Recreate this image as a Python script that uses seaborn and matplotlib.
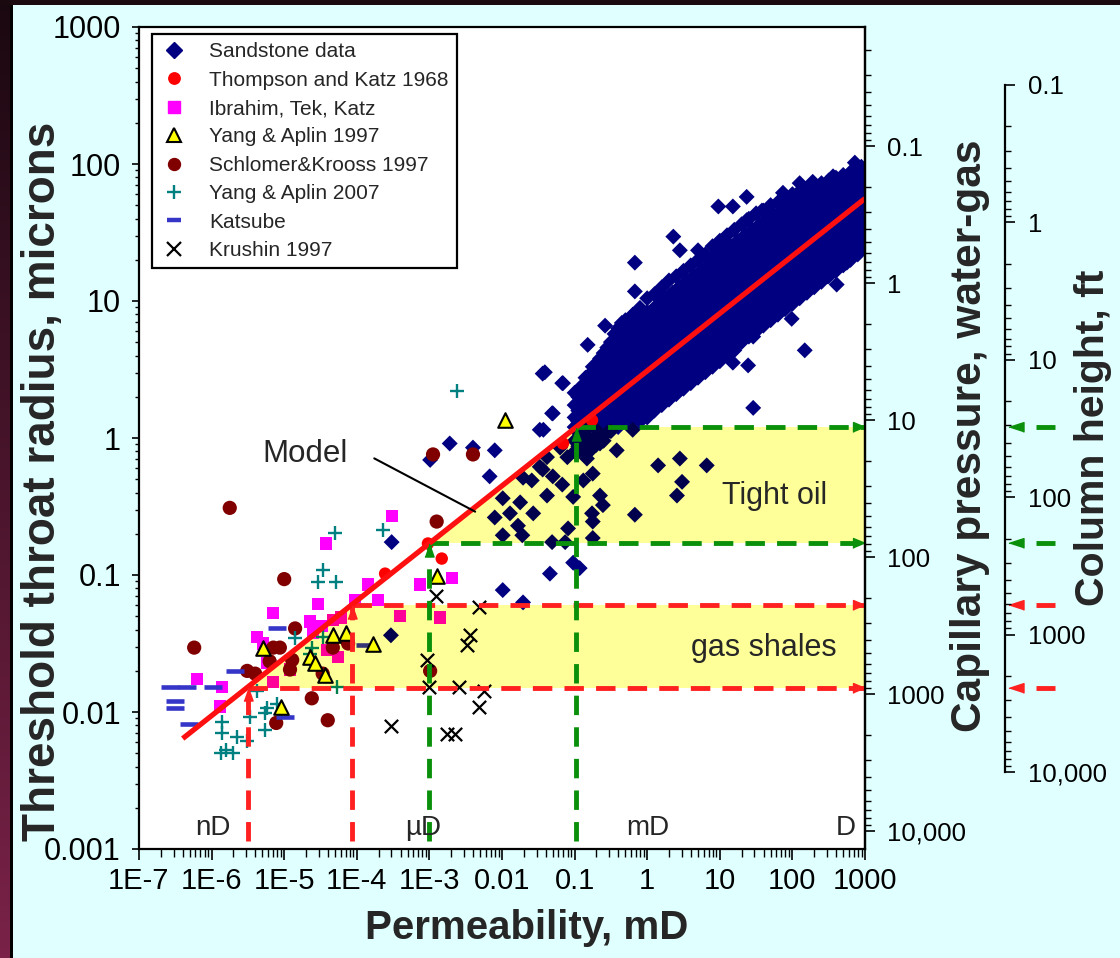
import numpy as np
import matplotlib
matplotlib.use("Agg")
import matplotlib.pyplot as plt
import matplotlib.transforms as mtransforms
from matplotlib.colors import LinearSegmentedColormap, to_rgb
from matplotlib.lines import Line2D
from matplotlib.patches import Rectangle
from matplotlib.ticker import LogLocator, NullFormatter
import seaborn as sns

sns.set_theme(style="ticks")
plt.rcParams["font.family"] = ["Liberation Sans", "DejaVu Sans"]

# ---------------- data: (log10 permeability mD, log10 threshold radius microns) ----------------
# sandstone cloud, read column by column along the band
sand_band = [
    (-1.00, [-0.10, -0.02, 0.08, 0.15, 0.24, 0.33]),
    (-0.95, [-0.06, 0.04, 0.12, 0.20, 0.30]),
    (-0.90, [-0.08, 0.02, 0.10, 0.19, 0.27, 0.38]),
    (-0.85, [-0.03, 0.06, 0.15, 0.24, 0.33, 0.44]),
    (-0.80, [-0.10, 0.00, 0.09, 0.18, 0.28, 0.36, 0.46]),
    (-0.75, [-0.02, 0.12, 0.21, 0.30, 0.40, 0.52]),
    (-0.70, [-0.05, 0.06, 0.15, 0.24, 0.33, 0.44, 0.54]),
    (-0.65, [0.02, 0.11, 0.20, 0.30, 0.38, 0.48, 0.58]),
    (-0.60, [-0.02, 0.08, 0.17, 0.26, 0.35, 0.44, 0.52, 0.62]),
    (-0.55, [0.04, 0.13, 0.22, 0.32, 0.41, 0.50, 0.58, 0.66]),
    (-0.50, [0.05, 0.14, 0.23, 0.31, 0.40, 0.49, 0.58, 0.70]),
    (-0.45, [0.10, 0.19, 0.28, 0.37, 0.46, 0.55, 0.64, 0.76]),
    (-0.40, [0.08, 0.17, 0.26, 0.34, 0.43, 0.52, 0.61, 0.70, 0.80]),
    (-0.35, [0.12, 0.22, 0.31, 0.40, 0.49, 0.58, 0.68, 0.76, 0.84]),
    (-0.30, [0.12, 0.21, 0.30, 0.39, 0.47, 0.56, 0.65, 0.74, 0.86]),
    (-0.25, [0.10, 0.20, 0.29, 0.38, 0.48, 0.57, 0.66, 0.78]),
    (-0.20, [0.06, 0.18, 0.27, 0.36, 0.45, 0.54, 0.63, 0.72, 0.81, 0.90]),
    (-0.15, [0.16, 0.25, 0.34, 0.43, 0.52, 0.62, 0.70, 0.82]),
    (-0.10, [0.12, 0.22, 0.31, 0.40, 0.49, 0.58, 0.67, 0.76, 0.85, 0.95]),
    (-0.05, [0.20, 0.29, 0.38, 0.47, 0.56, 0.65, 0.74, 0.81, 0.88]),
    (0.00, [0.15, 0.26, 0.35, 0.44, 0.53, 0.62, 0.71, 0.82, 0.92, 1.02]),
    (0.05, [0.22, 0.31, 0.40, 0.49, 0.58, 0.67, 0.76, 0.84, 0.92]),
    (0.10, [0.20, 0.30, 0.39, 0.48, 0.57, 0.66, 0.75, 0.86, 0.95, 1.05]),
    (0.15, [0.26, 0.35, 0.44, 0.53, 0.62, 0.71, 0.80, 0.88, 0.97]),
    (0.20, [0.24, 0.34, 0.43, 0.52, 0.61, 0.70, 0.79, 0.90, 1.00, 1.10]),
    (0.25, [0.30, 0.40, 0.49, 0.58, 0.67, 0.76, 0.85, 0.93, 1.02]),
    (0.30, [0.28, 0.38, 0.47, 0.56, 0.65, 0.74, 0.83, 0.94, 1.04, 1.15]),
    (0.35, [0.34, 0.44, 0.53, 0.62, 0.71, 0.80, 0.90, 0.98, 1.06]),
    (0.40, [0.32, 0.42, 0.51, 0.60, 0.69, 0.78, 0.87, 0.98, 1.08, 1.18]),
    (0.45, [0.38, 0.48, 0.57, 0.66, 0.75, 0.84, 0.94, 1.02, 1.10]),
    (0.50, [0.36, 0.46, 0.55, 0.64, 0.73, 0.82, 0.91, 1.02, 1.12, 1.22]),
    (0.55, [0.42, 0.52, 0.61, 0.70, 0.79, 0.88, 0.98, 1.06, 1.14]),
    (0.60, [0.40, 0.50, 0.59, 0.68, 0.77, 0.86, 0.95, 1.06, 1.16, 1.26]),
    (0.65, [0.46, 0.56, 0.65, 0.74, 0.83, 0.92, 1.02, 1.10, 1.18]),
    (0.70, [0.44, 0.54, 0.63, 0.72, 0.81, 0.90, 0.99, 1.10, 1.20, 1.30]),
    (0.75, [0.50, 0.60, 0.69, 0.78, 0.87, 0.96, 1.06, 1.14, 1.22]),
    (0.80, [0.48, 0.58, 0.67, 0.76, 0.85, 0.94, 1.03, 1.14, 1.24, 1.34]),
    (0.85, [0.54, 0.64, 0.73, 0.82, 0.91, 1.00, 1.10, 1.18, 1.26]),
    (0.90, [0.52, 0.62, 0.71, 0.80, 0.89, 0.98, 1.07, 1.18, 1.29, 1.40]),
    (0.95, [0.58, 0.68, 0.77, 0.86, 0.95, 1.04, 1.14, 1.23, 1.32]),
    (1.00, [0.56, 0.66, 0.75, 0.84, 0.93, 1.02, 1.11, 1.22, 1.33, 1.44]),
    (1.05, [0.62, 0.72, 0.81, 0.90, 0.99, 1.08, 1.18, 1.27, 1.36]),
    (1.10, [0.60, 0.70, 0.79, 0.88, 0.97, 1.06, 1.15, 1.26, 1.37, 1.48]),
    (1.15, [0.66, 0.76, 0.85, 0.94, 1.03, 1.12, 1.22, 1.31, 1.40]),
    (1.20, [0.64, 0.74, 0.83, 0.92, 1.01, 1.10, 1.19, 1.30, 1.41, 1.52]),
    (1.25, [0.70, 0.80, 0.89, 0.98, 1.07, 1.16, 1.26, 1.35, 1.44]),
    (1.30, [0.70, 0.79, 0.88, 0.97, 1.06, 1.15, 1.24, 1.34, 1.45, 1.56]),
    (1.35, [0.76, 0.85, 0.94, 1.03, 1.12, 1.21, 1.30, 1.39, 1.48]),
    (1.40, [0.74, 0.83, 0.92, 1.01, 1.10, 1.19, 1.28, 1.38, 1.49, 1.60]),
    (1.45, [0.80, 0.89, 0.98, 1.07, 1.16, 1.25, 1.34, 1.43, 1.52]),
    (1.50, [0.78, 0.87, 0.96, 1.05, 1.14, 1.23, 1.32, 1.42, 1.53, 1.64]),
    (1.55, [0.84, 0.93, 1.02, 1.11, 1.20, 1.29, 1.38, 1.47, 1.56]),
    (1.60, [0.82, 0.91, 1.00, 1.09, 1.18, 1.27, 1.36, 1.46, 1.56, 1.66]),
    (1.65, [0.88, 0.97, 1.06, 1.15, 1.24, 1.33, 1.42, 1.51, 1.60]),
    (1.70, [0.86, 0.95, 1.04, 1.13, 1.22, 1.31, 1.40, 1.50, 1.60, 1.70]),
    (1.75, [0.92, 1.01, 1.10, 1.19, 1.28, 1.37, 1.46, 1.54, 1.62]),
    (1.80, [0.90, 0.99, 1.08, 1.17, 1.26, 1.35, 1.44, 1.54, 1.63, 1.72]),
    (1.85, [0.96, 1.05, 1.14, 1.23, 1.32, 1.41, 1.50, 1.58, 1.66]),
    (1.90, [0.94, 1.03, 1.12, 1.21, 1.30, 1.39, 1.48, 1.58, 1.67, 1.76]),
    (1.95, [1.00, 1.09, 1.18, 1.27, 1.36, 1.45, 1.54, 1.62, 1.70]),
    (2.00, [0.98, 1.07, 1.16, 1.25, 1.34, 1.43, 1.52, 1.62, 1.70, 1.78]),
    (2.05, [1.04, 1.13, 1.22, 1.31, 1.40, 1.49, 1.58, 1.65, 1.72]),
    (2.10, [1.02, 1.11, 1.20, 1.29, 1.38, 1.47, 1.56, 1.65, 1.72, 1.80]),
    (2.15, [1.08, 1.17, 1.26, 1.35, 1.44, 1.53, 1.62, 1.74]),
    (2.20, [1.06, 1.15, 1.24, 1.33, 1.42, 1.51, 1.60, 1.69, 1.82]),
    (2.25, [1.12, 1.21, 1.30, 1.39, 1.48, 1.57, 1.66, 1.78]),
    (2.30, [1.10, 1.19, 1.28, 1.37, 1.46, 1.55, 1.64, 1.73, 1.84]),
    (2.35, [1.16, 1.25, 1.34, 1.43, 1.52, 1.61, 1.70, 1.80]),
    (2.40, [1.14, 1.23, 1.32, 1.41, 1.50, 1.59, 1.68, 1.77, 1.86]),
    (2.45, [1.20, 1.29, 1.38, 1.47, 1.56, 1.65, 1.74, 1.82]),
    (2.50, [1.18, 1.27, 1.36, 1.45, 1.54, 1.63, 1.72, 1.80, 1.88]),
    (2.55, [1.24, 1.33, 1.42, 1.51, 1.60, 1.69, 1.78, 1.84]),
    (2.60, [1.22, 1.31, 1.40, 1.49, 1.58, 1.67, 1.76, 1.84, 1.90]),
    (2.65, [1.28, 1.37, 1.46, 1.55, 1.64, 1.73, 1.81, 1.88]),
    (2.70, [1.26, 1.35, 1.44, 1.53, 1.62, 1.71, 1.79, 1.86, 1.92]),
    (2.75, [1.32, 1.41, 1.50, 1.59, 1.68, 1.77, 1.85, 1.90]),
    (2.80, [1.30, 1.39, 1.48, 1.57, 1.66, 1.75, 1.83, 1.90, 1.94]),
    (2.85, [1.36, 1.45, 1.54, 1.63, 1.72, 1.81, 1.88, 1.96]),
    (2.90, [1.34, 1.43, 1.52, 1.61, 1.70, 1.79, 1.86, 1.93, 1.97]),
    (2.95, [1.38, 1.47, 1.56, 1.65, 1.74, 1.83, 1.90, 1.98]),
]
sand_extra = [
    (2.86, 2.01), (1.37, 1.76), (0.98, 1.69), (1.18, 1.69), (0.36, 1.47), (0.45, 1.37),
    (-0.17, 1.28), (-0.17, 1.07), (-0.58, 0.82), (-0.82, 0.68), (-1.41, 0.48), (-1.17, 0.40),
    (-1.31, 0.18), (-1.43, 0.06), (2.17, 0.64), (1.99, 0.87), (1.46, 0.22), (1.18, 0.55),
    (1.39, 0.53), (2.61, 1.12),
    (0.70, 1.37), (0.98, 1.36), (1.10, 1.42), (1.37, 1.59), (1.58, 1.66), (1.73, 1.64),
    (1.87, 1.79), (2.10, 1.86), (2.28, 1.87), (2.56, 1.91), (2.75, 1.28), (2.89, 1.39),
    (2.48, 1.18), (2.01, 0.99), (1.69, 0.88), (1.46, 0.74), (0.91, 0.55), (0.49, 0.42),
    (0.08, 0.35),
    (-1.99, -0.44), (-2.10, -0.58), (-1.99, -0.71), (-1.75, -0.47), (-1.89, -0.55), (-1.78, -0.64),
    (-1.72, -0.71), (-1.57, -0.55), (-1.38, -0.42), (-1.31, -0.76), (-1.09, -0.66), (-1.13, -0.76),
    (-1.71, -0.29), (-1.59, -0.31), (-1.44, -0.23), (-1.30, -0.28), (-1.17, -0.34), (-1.02, -0.43),
    (-0.88, -0.31), (-0.75, -0.26), (-0.65, -0.42), (-0.61, -0.49), (-0.76, -0.55), (-0.75, -0.61),
    (-0.75, -0.73), (-0.17, -0.56), (0.15, -0.20), (0.45, -0.15), (0.82, -0.20), (0.48, -0.32),
    (0.41, -0.42), (-0.42, -0.09), (-0.65, -0.04), (-0.83, -0.15), (-1.48, -0.21), (-1.38, -0.14),
    (-1.20, -0.07), (-1.10, -0.14), (-0.97, -0.11), (-1.48, 0.06), (-1.30, 0.18), (-1.44, 0.47),
    (-1.16, 0.40),
    (-1.02, -0.91), (-0.93, -0.95), (-1.34, -0.99), (-1.99, -1.11), (-1.71, -1.20), (-2.17, -0.28),
    (-2.10, -0.09), (-2.72, -0.04), (-2.40, -0.07), (-2.99, -0.16), (-3.52, -0.76), (-3.53, -1.44),
]
thompson = [(-3.61, -0.99), (-3.02, -0.77), (-2.83, -0.88), (-1.16, -0.04), (-0.76, 0.13)]
ibrahim = [(-3.52, -0.57), (-4.42, -0.77), (-3.85, -1.07), (-3.71, -1.18), (-4.02, -1.18),
           (-3.13, -1.07), (-2.69, -1.02), (-4.53, -1.21), (-5.15, -1.28), (-4.64, -1.34),
           (-4.48, -1.37), (-4.33, -1.33), (-4.22, -1.31), (-5.37, -1.45), (-5.29, -1.50),
           (-4.60, -1.42), (-4.41, -1.55), (-4.26, -1.60), (-5.24, -1.64), (-4.92, -1.69),
           (-5.15, -1.78), (-6.20, -1.76), (-5.86, -1.82), (-5.88, -1.96), (-3.41, -1.30),
           (-2.85, -1.31)]
yang97 = [(-5.29, -1.53), (-4.33, -1.44), (-4.15, -1.42), (-4.64, -1.60), (-4.58, -1.64),
          (-4.44, -1.73), (-3.78, -1.50), (-5.04, -1.96), (-2.90, -1.01), (-1.96, 0.13)]
schlomer = [(-5.75, -0.51), (-5.00, -1.03), (-6.24, -1.53), (-2.90, -0.61), (-2.95, -0.12),
            (-2.40, -0.12), (-4.85, -1.39), (-5.15, -1.53), (-5.06, -1.53), (-5.20, -1.63),
            (-4.89, -1.62), (-4.92, -1.69), (-5.51, -1.70), (-5.40, -1.72), (-4.47, -1.72),
            (-4.33, -1.53), (-4.12, -1.50), (-4.62, -1.90), (-4.40, -2.06), (-5.11, -2.08),
            (-2.99, -1.70)]
yang07 = [(-2.62, 0.34), (-4.30, -0.69), (-3.64, -0.67), (-4.47, -0.96), (-4.53, -1.05),
          (-4.29, -1.05), (-4.85, -1.46), (-4.62, -1.53), (-4.60, -1.65), (-4.27, -1.82),
          (-5.37, -1.85), (-5.10, -1.94), (-5.24, -1.97), (-5.26, -2.01), (-5.47, -2.04),
          (-5.26, -2.13), (-5.86, -2.07), (-5.86, -2.15), (-5.65, -2.18), (-5.51, -2.21),
          (-5.80, -2.28), (-5.71, -2.30), (-5.87, -2.30), (-4.64, -1.58), (-4.47, -1.45)]
katsube = [(-5.10, -1.39), (-5.68, -1.70), (-6.57, -1.82), (-6.34, -1.82), (-5.98, -1.82),
           (-6.50, -1.92), (-6.50, -1.97), (-6.31, -2.09), (-4.99, -2.04), (-3.89, -1.51)]
krushin = [(-2.91, -1.15), (-2.32, -1.23), (-2.44, -1.44), (-2.48, -1.51), (-3.03, -1.62),
           (-3.01, -1.82), (-2.59, -1.82), (-2.25, -1.85), (-2.32, -1.96), (-3.53, -2.10),
           (-2.76, -2.16), (-2.65, -2.16)]

# model line end points (mD, microns)
model_k = [4e-7, 1000.0]
model_r = [0.0064, 56.0]
# pore-throat windows (radius levels and where the model crosses them)
gas_r = [0.015, 0.06]
gas_k = [3.2e-6, 8.6e-5]
oil_r = [0.17, 1.2]
oil_k = [1.0e-3, 0.105]
vline_bottom = 0.00115
model_label_k = [1.74e-4, 4.27e-3]
model_label_r = [0.71, 0.29]

xtick_vals = [1e-7, 1e-6, 1e-5, 1e-4, 1e-3, 1e-2, 1e-1, 1, 10, 100, 1000]
xtick_labels = ["1E-7", "1E-6", "1E-5", "1E-4", "1E-3", "0.01", "0.1", "1", "10", "100", "1000"]
ytick_vals = [1e-3, 1e-2, 1e-1, 1, 10, 100, 1000]
ytick_labels = ["0.001", "0.01", "0.1", "1", "10", "100", "1000"]
pc_ticks = [0.1, 1, 10, 100, 1000, 10000]
pc_labels = ["0.1", "1", "10", "100", "1000", "10,000"]
pc_const = 13.5
col_ticks = [0.1, 1, 10, 100, 1000, 10000]
col_labels = ["0.1", "1", "10", "100", "1000", "10,000"]

# ---------------- figure ----------------
W, H = 1120, 958
BG = "#e0ffff"
fig = plt.figure(figsize=(W / 100, H / 100), dpi=100, facecolor=BG)

ax = fig.add_axes([139 / W, 1 - 849 / H, 726 / W, 822 / H])
ax.set_facecolor("white")
ax.set_xscale("log")
ax.set_yscale("log")
ax.set_xlim(1e-7, 1e3)
ax.set_ylim(1e-3, 1e3)

YEL = "#ffff99"
RED = "#ff2020"
GRN = "#0a900a"


def model_at(k):
    return 10 ** np.interp(np.log10(k), np.log10(model_k), np.log10(model_r))


def in_yellow(k, r):
    below = r <= model_at(k) * 1.02
    g = (r >= gas_r[0]) & (r <= gas_r[1])
    o = (r >= oil_r[0]) & (r <= oil_r[1])
    return below & (g | o)


def tint(c):
    rgb = np.array(to_rgb(c)) * np.array(to_rgb(YEL))
    return tuple(rgb)


# yellow windows
for ks, rs in ((gas_k, gas_r), (oil_k, oil_r)):
    ax.fill([ks[0], 1000, 1000, ks[1]], [rs[0], rs[0], rs[1], rs[1]],
            color=YEL, lw=0, zorder=1)


def draw(pairs, marker, color, s, ec=None, lw=0.0, z=2):
    arr = np.array(pairs, dtype=float)
    k = 10 ** arr[:, 0]
    r = 10 ** arr[:, 1]
    inside = in_yellow(k, r)
    for mask, col in ((~inside, color), (inside, tint(color))):
        if mask.any():
            kws = dict(marker=marker, s=s, color=col, linewidth=lw, zorder=z, legend=False, ax=ax)
            if ec is not None:
                kws["edgecolor"] = col if ec == "same" else ec
            sns.scatterplot(x=k[mask], y=r[mask], **kws)


sand_pairs = [(lk, lr) for lk, lrs in sand_band for lr in lrs] + sand_extra
draw(sand_pairs, "D", "#000080", 66, ec="none", z=2)
draw(ibrahim, "s", "#ff00ff", 78, ec="none", z=2.2)
draw(schlomer, "o", "#800000", 105, ec="none", z=2.3)
draw(yang07, "+", "#008080", 100, ec="same", lw=1.7, z=2.4)
draw(katsube, "_", "#3535c8", 150, ec="same", lw=3.3, z=2.5)
draw(krushin, "x", "black", 92, ec="same", lw=1.6, z=2.6)
draw(thompson, "o", "#ff0000", 80, ec="none", z=2.7)
draw(yang97, "^", "#ffff00", 110, ec="black", lw=1.5, z=2.8)

# model line and its label
ax.plot(model_k, model_r, color="#ff1010", lw=3.8, zorder=6, solid_capstyle="butt")
ax.plot(model_label_k, model_label_r, color="black", lw=1.5, zorder=6)
ax.text(1.95e-5, 0.76, "Model", fontsize=22.5, ha="center", va="center", zorder=7)

# dashed guide lines with arrow heads
DASH = (0, (4.0, 2.5))
right_head = [(1, 0), (-1, 0.83), (-1, -0.83)]
up_head = [(0, 1), (0.7, -1), (-0.7, -1)]
off_right = ax.transData + mtransforms.ScaledTranslation(-0.06, 0, fig.dpi_scale_trans)
off_up = ax.transData + mtransforms.ScaledTranslation(0, -0.066, fig.dpi_scale_trans)
for ks, rs, col in ((gas_k, gas_r, RED), (oil_k, oil_r, GRN)):
    for kk, rr in zip(ks, rs):
        ax.plot([kk, 1000], [rr, rr], color=col, lw=3.5, ls=DASH, zorder=5)
        ax.plot([kk, kk], [vline_bottom, rr], color=col, lw=3.5, ls=DASH, zorder=5)
        ax.plot([1000], [rr], marker=right_head, ms=8.6, color=col, ls="none",
                transform=off_right, clip_on=False, zorder=7)
        ax.plot([kk], [rr], marker=up_head, ms=9.4, color=col, ls="none",
                transform=off_up, clip_on=False, zorder=7)

# region labels
ax.text(57.5, 0.38, "Tight oil", fontsize=22, ha="center", va="center", zorder=7)
ax.text(40, 0.0295, "gas shales", fontsize=22, ha="center", va="center", zorder=7)
for kx, t in ((1.05e-6, "nD"), (8.1e-4, "µD"), (1.02, "mD"), (550, "D")):
    ax.text(kx, 1.42e-3, t, fontsize=20, ha="center", va="center", zorder=7)

# axes styling
ax.set_xticks(xtick_vals)
ax.set_xticklabels(xtick_labels)
ax.set_yticks(ytick_vals)
ax.set_yticklabels(ytick_labels)
ax.xaxis.set_minor_locator(LogLocator(base=10, subs=np.arange(2, 10), numticks=100))
ax.yaxis.set_minor_locator(LogLocator(base=10, subs=np.arange(2, 10), numticks=100))
ax.xaxis.set_minor_formatter(NullFormatter())
ax.yaxis.set_minor_formatter(NullFormatter())
ax.tick_params(axis="x", which="major", length=8, width=1.2, direction="out", labelsize=21,
               pad=5, bottom=True, top=False, color="black", labelcolor="black")
ax.tick_params(axis="x", which="minor", length=6, width=1.0, direction="out", bottom=True, top=False,
               color="black")
ax.tick_params(axis="y", which="major", length=5, width=1.2, direction="out", labelsize=22,
               pad=8, left=True, right=False, color="black", labelcolor="black")
ax.tick_params(axis="y", which="minor", length=3, width=1.0, direction="out", left=True, right=False,
               color="black")
for sp in ax.spines.values():
    sp.set_color("black")
    sp.set_linewidth(1.6)
ax.set_xlabel("")
ax.set_ylabel("")

# legend
leg_handles = [
    Line2D([], [], ls="none", marker="D", ms=8.5, mfc="#000080", mec="#000080"),
    Line2D([], [], ls="none", marker="o", ms=8.2, mfc="#ff0000", mec="#ff0000"),
    Line2D([], [], ls="none", marker="s", ms=8.5, mfc="#ff00ff", mec="#ff00ff"),
    Line2D([], [], ls="none", marker="^", ms=10, mfc="#ffff00", mec="black", mew=1.5),
    Line2D([], [], ls="none", marker="o", ms=8.6, mfc="#800000", mec="#800000"),
    Line2D([], [], ls="none", marker="+", ms=10, mec="#008080", mew=1.7),
    Line2D([], [], ls="none", marker="_", ms=10, mec="#3535c8", mew=3.2),
    Line2D([], [], ls="none", marker="x", ms=9.5, mec="black", mew=1.6),
]
leg_labels = ["Sandstone data", "Thompson and Katz 1968", "Ibrahim, Tek, Katz", "Yang & Aplin 1997",
              "Schlomer&Krooss 1997", "Yang & Aplin 2007", "Katsube", "Krushin 1997"]
leg = ax.legend(leg_handles, leg_labels, loc="upper left", bbox_to_anchor=(0.018, 0.9915),
                borderaxespad=0, fontsize=15, labelspacing=0.45, handlelength=1.35,
                handletextpad=1.0, borderpad=0.4, frameon=True, fancybox=False,
                edgecolor="black", facecolor="white", framealpha=1)
leg.get_frame().set_linewidth(1.6)
leg.set_zorder(10)

# capillary pressure axis (inverse of radius)
ax2 = ax.twinx()
ax2.set_yscale("log")
ax2.set_ylim(pc_const / 1e-3, pc_const / 1e3)
ax2.set_yticks(pc_ticks)
ax2.set_yticklabels(pc_labels)
ax2.yaxis.set_minor_locator(LogLocator(base=10, subs=np.arange(2, 10), numticks=100))
ax2.yaxis.set_minor_formatter(NullFormatter())
ax2.tick_params(axis="y", which="major", length=7, width=1.2, direction="out", labelsize=18.5,
                pad=9, right=True, left=False, color="black", labelcolor="black")
ax2.tick_params(axis="y", which="minor", length=4.5, width=1.0, direction="out", right=True,
                left=False, color="black")
for sp in ax2.spines.values():
    sp.set_visible(False)
ax2.spines["right"].set_visible(True)
ax2.spines["right"].set_color("black")
ax2.spines["right"].set_linewidth(1.6)

# column height axis
ax3 = fig.add_axes([1005 / W, 1 - 772 / H, 0.0004, 687 / H])
ax3.set_facecolor("none")
ax3.set_yscale("log")
ax3.set_ylim(1e4, 0.1)
ax3.set_yticks(col_ticks)
ax3.set_yticklabels(col_labels)
ax3.yaxis.set_minor_locator(LogLocator(base=10, subs=np.arange(2, 10), numticks=100))
ax3.yaxis.set_minor_formatter(NullFormatter())
ax3.yaxis.tick_right()
ax3.tick_params(axis="y", which="major", length=7, width=1.2, direction="out", labelsize=18.5,
                pad=9, right=True, left=False, color="black", labelcolor="black")
ax3.tick_params(axis="y", which="minor", length=4, width=1.0, direction="out", right=True,
                left=False, color="black")
ax3.set_xticks([])
for name, sp in ax3.spines.items():
    sp.set_visible(name == "right")
ax3.spines["right"].set_color("black")
ax3.spines["right"].set_linewidth(1.6)

# arrows beside the column height axis (same heights as the windows)
bt = mtransforms.blended_transform_factory(fig.transFigure, ax.transData)
left_head = [(-1, 0), (1, 0.65), (1, -0.65)]
for rs, col in ((gas_r, RED), (oil_r, GRN)):
    for rr in rs:
        ax.plot([1036 / W, 1055 / W], [rr, rr], color=col, lw=3.5, transform=bt,
                clip_on=False, zorder=7, solid_capstyle="butt")
        ax.plot([1015.5 / W], [rr], marker=left_head, ms=10.8, color=col, ls="none",
                transform=bt, clip_on=False, zorder=7)

# axis titles
fig.text(527 / W, 1 - 928 / H, "Permeability, mD", fontsize=29, fontweight="bold",
         ha="center", va="center")
fig.text(43 / W, 1 - 481 / H, "Threshold throat radius, microns", fontsize=33, fontweight="bold",
         rotation=90, ha="center", va="center")
fig.text(970 / W, 1 - 436 / H, "Capillary pressure, water-gas", fontsize=30.5, fontweight="bold",
         rotation=90, ha="center", va="center")
fig.text(1093 / W, 1 - 438 / H, "Column height, ft", fontsize=29.5, fontweight="bold",
         rotation=90, ha="center", va="center")

# slide frame: dark gradient strip on the left and a dark band on top
axg = fig.add_axes([0, 0, 10 / W, 1])
grad = np.linspace(0, 1, 256).reshape(-1, 1)
axg.imshow(grad, aspect="auto", origin="upper",
           cmap=LinearSegmentedColormap.from_list("frame", ["#1a0810", "#7a2248"]))
axg.axis("off")
fig.add_artist(Rectangle((10 / W, 0), 2.5 / W, 1, transform=fig.transFigure,
                         color="black", lw=0))
fig.add_artist(Rectangle((0, 1 - 5 / H), 1, 5 / H, transform=fig.transFigure,
                         color="#1a0a10", lw=0))

fig.savefig("out.png", dpi=100, facecolor=BG)
